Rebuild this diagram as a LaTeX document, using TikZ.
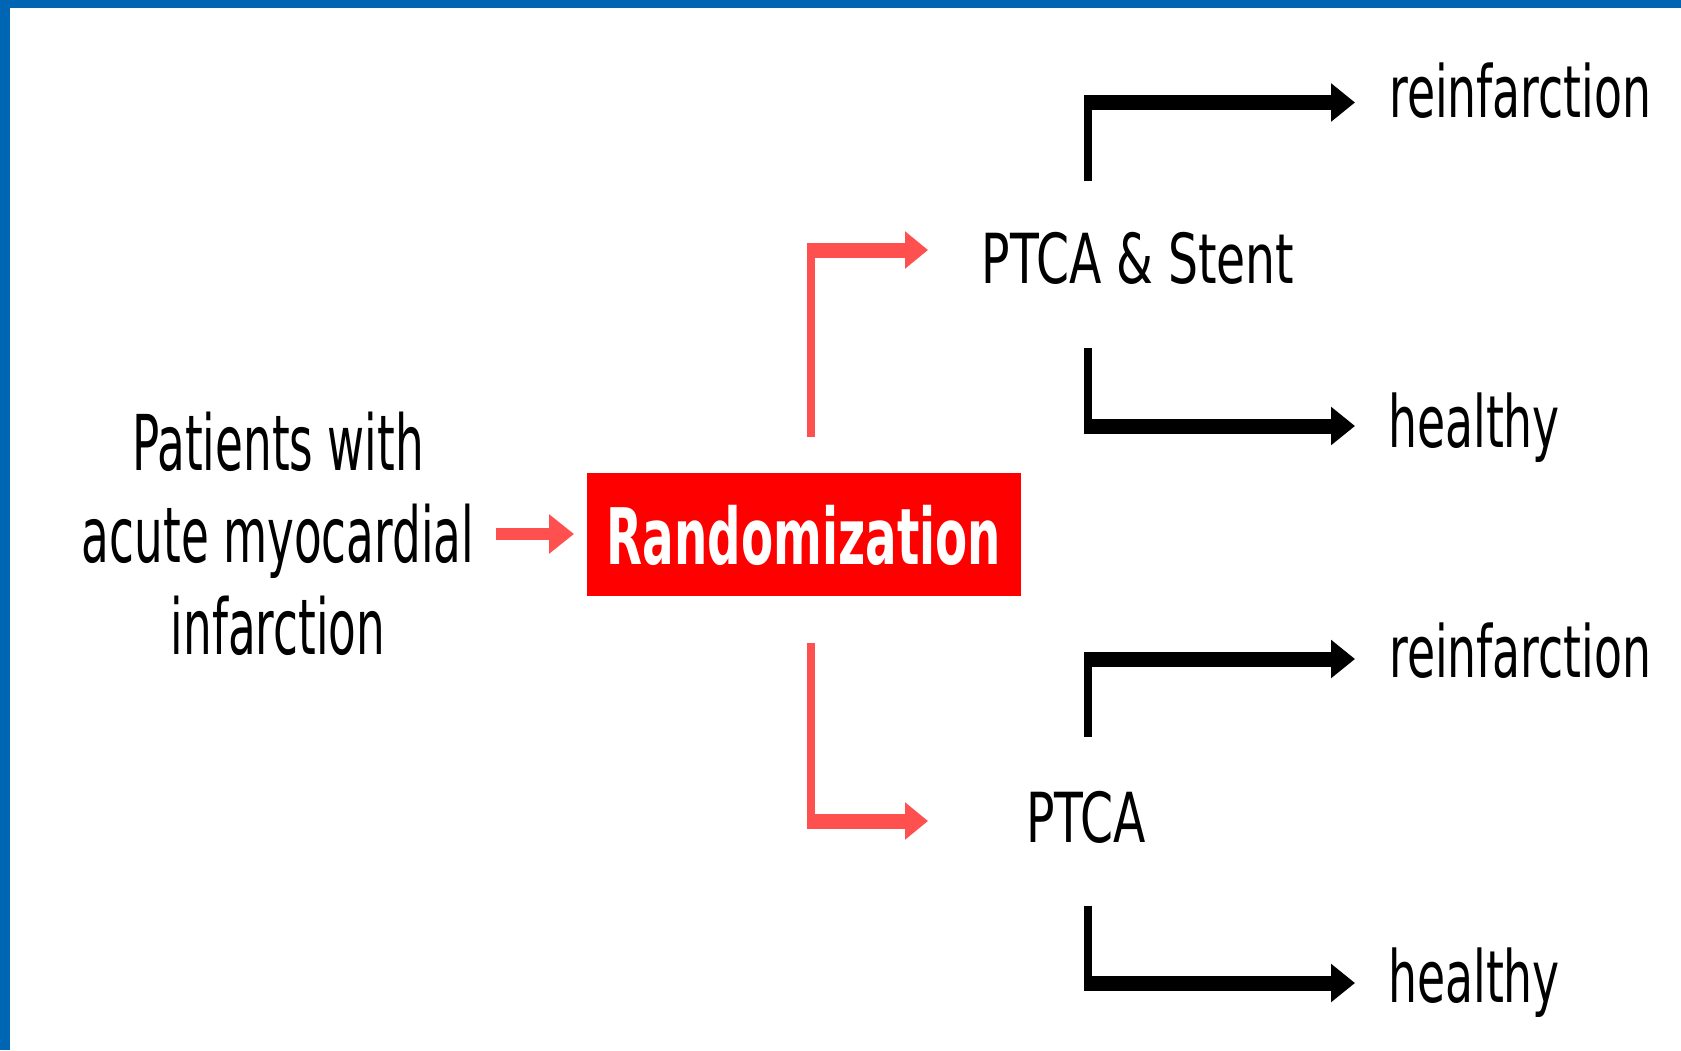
\documentclass[tikz,border=0pt]{standalone}
\usepackage{fontspec}
\usetikzlibrary{arrows.meta}
\newfontfamily\lblfont{DejaVu Sans}[FakeStretch=0.635]
\newfontfamily\midfont{DejaVu Sans}[FakeStretch=0.685]
\newfontfamily\leftfont{DejaVu Sans}[FakeStretch=0.588]
\newfontfamily\randfont{DejaVu Sans}[FakeStretch=0.60]
\definecolor{bord}{HTML}{0066B3}
\definecolor{boxred}{HTML}{FF0000}
\definecolor{arrred}{HTML}{FF5050}
\tikzset{
  lbl/.style={inner sep=0pt, anchor=base west, font=\lblfont\fontsize{72}{80}\selectfont},
  mid/.style={inner sep=0pt, anchor=base, font=\midfont\fontsize{69}{80}\selectfont},
  vred/.style={draw=arrred, line width=8pt},
  hred/.style={draw=arrred, line width=15pt, -{Triangle[length=23pt,width=36pt]}},
  vblk/.style={draw=black, line width=8pt},
  hblk/.style={draw=black, line width=15pt, -{Triangle[length=24pt,width=37pt]}},
}
\begin{document}
\begin{tikzpicture}[x=1pt,y=-1pt]
\path[use as bounding box, fill=white] (0,0) rectangle (1681,1050);
\fill[bord] (0,0) rectangle (1681,8);
\fill[bord] (0,0) rectangle (10,1050);

% nodes
\node[inner sep=0pt, align=center, font=\leftfont\fontsize{77}{92}\selectfont] (pat) at (278,534)
  {Patients with\\acute myocardial\\infarction};
\node[fill=boxred, inner sep=0pt, minimum width=434pt, minimum height=123pt, text depth=0pt,
  text=white, font=\randfont\bfseries\fontsize{78}{80}\selectfont] (rand) at (804,534.5) {Randomization};
\node[mid] (ptcas) at (1138,283) {PTCA \& Stent};
\node[mid] (ptca) at (1086,842) {PTCA};
\node[lbl] (re1) at (1389,117) {reinfarction};
\node[lbl] (he1) at (1388,447) {healthy};
\node[lbl] (re2) at (1389,677) {reinfarction};
\node[lbl] (he2) at (1388,1002) {healthy};

% coordinates
\coordinate (sa) at (496,534); \coordinate (sb) at (574,534);
\coordinate (u1) at (811,437); \coordinate (u2) at (811,243);
\coordinate (u3) at (807,250); \coordinate (u4) at (928,250);
\coordinate (d1) at (811,643); \coordinate (d2) at (811,828);
\coordinate (d3) at (807,821); \coordinate (d4) at (928,821);
\coordinate (a1) at (1088,181); \coordinate (a2) at (1088,95);
\coordinate (a3) at (1084,102.5); \coordinate (a4) at (1355,102.5);
\coordinate (b1) at (1088,348); \coordinate (b2) at (1088,433.5);
\coordinate (b3) at (1084,426); \coordinate (b4) at (1355,426);
\coordinate (c1) at (1088,737); \coordinate (c2) at (1088,651.5);
\coordinate (c3) at (1084,659); \coordinate (c4) at (1355,659);
\coordinate (e1) at (1088,906); \coordinate (e2) at (1088,990.5);
\coordinate (e3) at (1084,983); \coordinate (e4) at (1355,983);

% red connectors
\draw[draw=arrred, line width=12pt, -{Triangle[length=25pt,width=38pt]}] (sa) -- (sb);
\draw[vred] (u1) -- (u2);
\draw[hred] (u3) -- (u4);
\draw[vred] (d1) -- (d2);
\draw[hred] (d3) -- (d4);

% black connectors
\draw[vblk] (a1) -- (a2);
\draw[hblk] (a3) -- (a4);
\draw[vblk] (b1) -- (b2);
\draw[hblk] (b3) -- (b4);
\draw[vblk] (c1) -- (c2);
\draw[hblk] (c3) -- (c4);
\draw[vblk] (e1) -- (e2);
\draw[hblk] (e3) -- (e4);
\end{tikzpicture}
\end{document}
